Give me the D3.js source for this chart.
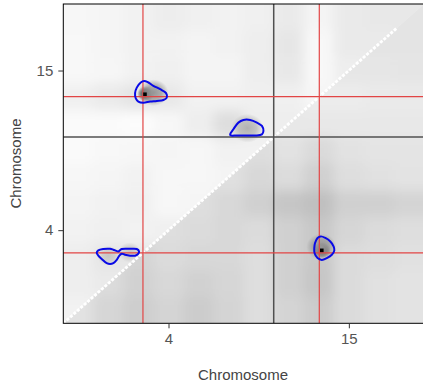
<!DOCTYPE html>
<html>
<head>
<meta charset="utf-8">
<script src="https://cdn.jsdelivr.net/npm/d3@7"></script>
<style>
  body { margin: 0; background: #fff; }
  svg { display: block; font-family: 'Liberation Sans', Arial, sans-serif; }
</style>
</head>
<body>
<div id="chart"></div>
<script>
// chromosomes on both axes (cM)
const chrNames = ['4', '15'];
const chrLengths = [84, 60];

// QTL positions (chromosome, cM)
const qtlChr = ['4', '15'];
const qtlPos = [31.8, 18.2];

// LOD surface as gray levels, 12 cM cells, rows listed top (high y) to bottom
const cellSize = 12;
const upperGrid = [
  [247, 245, 242, 237, 240, 242, 240, 234, 244, 234, 232, 232],
  [248, 245, 242, 242, 244, 242, 238, 230, 248, 234, 234, 232],
  [248, 246, 242, 240, 244, 244, 238, 232, 248, 238, 235, 234],
  [240, 234, 228, 232, 242, 242, 240, 240, 246, 242, 240, 240],
  [250, 250, 252, 247, 238, 222, 238, 238, 242, 240, 238, 237],
  [250, 248, 247, 245, 247, 242, 242, 238, 240, 240, 238, 237],
  [247, 245, 242, 247, 247, 244, 242, 238, 234, 234, 234, 234],
  [244, 242, 240, 247, 245, 242, 240, 234, 227, 224, 224, 224],
  [242, 240, 242, 240, 242, 240, 237, 232, 227, 227, 227, 227],
  [238, 230, 230, 234, 237, 237, 234, 230, 227, 227, 227, 227],
  [238, 234, 234, 237, 237, 234, 232, 230, 227, 227, 227, 227],
  [242, 238, 238, 237, 234, 232, 230, 228, 227, 227, 227, 227]
];
const lowerGrid = [
  [228, 228, 228, 228, 228, 228, 228, 228, 228, 228, 228, 228],
  [228, 228, 228, 228, 228, 228, 228, 226, 230, 228, 228, 228],
  [230, 230, 230, 230, 230, 230, 230, 228, 232, 230, 230, 229],
  [234, 234, 234, 234, 234, 234, 234, 232, 236, 236, 234, 234],
  [232, 232, 232, 232, 232, 232, 232, 232, 232, 232, 232, 232],
  [226, 226, 226, 226, 226, 226, 222, 226, 218, 226, 228, 228],
  [224, 224, 224, 224, 224, 224, 216, 220, 208, 222, 225, 227],
  [222, 222, 222, 222, 222, 216, 208, 198, 192, 208, 208, 212],
  [222, 222, 222, 222, 219, 216, 219, 208, 200, 214, 219, 222],
  [222, 222, 212, 219, 216, 216, 222, 208, 200, 219, 222, 225],
  [224, 219, 209, 216, 209, 214, 222, 208, 198, 219, 225, 227],
  [226, 214, 206, 212, 204, 212, 222, 212, 204, 219, 225, 227]
];

// darker spots (genome cM x, genome cM y, spread cM, gray)
const spotX = [33.0, 36.0, 103.2, 103.0, 73.5, 18.0, 26.5];
const spotY = [103.5, 104.0, 33.0, 34.5, 88.0, 30.5, 32.0];
const spotR = [3.5, 6, 3.5, 6, 6.5, 4.5, 4.5];
const spotGray = [50, 150, 50, 150, 178, 198, 198];

// peak markers (genome cM)
const peakX = [32.6, 103.2];
const peakY = [103.3, 32.9];

// significance contours (genome cM, x then y)
const contours = [
  [[28.65, 103.8], [29.33, 106.3], [30.92, 108.6], [32.24, 109.3], [33.96, 108.6], [35.96, 107.1],
   [38.64, 105.6], [41.03, 103.8], [41.31, 101.8], [39.95, 100.7], [37.32, 100.3], [34.64, 100.0],
   [31.96, 99.5], [29.96, 100.0], [28.93, 101.4]],
  [[66.6, 85.2], [67.9, 87.5], [69.9, 90.5], [71.9, 91.7], [74.6, 91.7], [77.3, 90.5], [79.3, 89.0],
   [79.9, 86.7], [79.3, 85.2], [76.6, 84.7], [73.3, 84.7], [69.3, 84.7], [66.9, 84.7]],
  [[13.34, 31.9], [13.98, 32.9], [15.98, 33.5], [18.66, 33.6], [19.98, 33.2], [21.97, 32.4],
   [23.33, 33.5], [26.65, 33.6], [29.32, 33.5], [30.24, 32.4], [29.96, 31.4], [28.65, 30.5],
   [26.65, 30.5], [24.65, 30.9], [23.33, 31.4], [22.37, 30.5], [21.33, 28.6], [19.98, 27.1],
   [18.66, 26.7], [17.34, 27.1], [15.34, 29.0], [13.98, 30.5]],
  [[100.5, 36.2], [101.5, 38.5], [102.8, 39.2], [104.6, 38.5], [106.6, 36.9], [107.9, 34.7],
   [108.2, 32.9], [107.2, 30.9], [105.2, 29.4], [103.2, 28.6], [101.5, 29.4], [100.3, 31.7],
   [100.2, 33.9]]
];

const diagEnd = 133;

// ---- layout
const W = 423, H = 385;
const pLeft = 63.3, pRight = 424, pTop = 4, pBottom = 323.3;

const chrStart = chrLengths.map((d, i) => d3.sum(chrLengths.slice(0, i)));
const total = d3.sum(chrLengths);
const genomePos = (chr, pos) => chrStart[chrNames.indexOf(chr)] + pos;

const x = d3.scaleLinear().domain([0, total]).range([pLeft, pRight]);
const y = d3.scaleLinear().domain([0, total]).range([pBottom, pTop]);

const svg = d3.select('#chart').append('svg').attr('width', W).attr('height', H);
const defs = svg.append('defs');

defs.append('clipPath').attr('id', 'panel')
  .append('rect').attr('x', pLeft).attr('y', pTop).attr('width', pRight - pLeft).attr('height', pBottom - pTop);
defs.append('clipPath').attr('id', 'upperTri')
  .append('polygon').attr('points', [[x(0), y(0)], [x(0), y(total)], [x(total), y(total)]].join(' '));
defs.append('clipPath').attr('id', 'lowerTri')
  .append('polygon').attr('points', [[x(0), y(0)], [x(total), y(0)], [x(total), y(total)]].join(' '));
defs.append('filter').attr('id', 'soft')
  .attr('filterUnits', 'userSpaceOnUse').attr('x', 0).attr('y', -60).attr('width', 500).attr('height', 460)
  .append('feGaussianBlur').attr('stdDeviation', 6);

const panel = svg.append('g').attr('clip-path', 'url(#panel)');
panel.append('rect').attr('x', pLeft).attr('y', pTop).attr('width', pRight - pLeft).attr('height', pBottom - pTop)
  .attr('fill', '#ececec');

// heat cells, blurred then clipped to their triangle
const drawGrid = (grid, clipId) => {
  const n = grid.length;
  const cells = [];
  grid.forEach((row, r) => row.forEach((v, i) => cells.push({ i, j: n - 1 - r, v })));
  const pad = 30;
  panel.append('g').attr('clip-path', `url(#${clipId})`)
    .append('g').attr('filter', 'url(#soft)')
    .selectAll('rect')
    .data(cells)
    .enter()
    .append('rect')
    .attr('x', d => x(d.i * cellSize) - (d.i === 0 ? pad : 0))
    .attr('y', d => y((d.j + 1) * cellSize) - (d.j === n - 1 ? pad : 0))
    .attr('width', d => x(cellSize) - x(0) + 0.6 + (d.i === 0 || d.i === n - 1 ? pad : 0))
    .attr('height', d => y(0) - y(cellSize) + 0.6 + (d.j === 0 || d.j === n - 1 ? pad : 0))
    .attr('fill', d => d3.rgb(d.v, d.v, d.v));
};
drawGrid(lowerGrid, 'lowerTri');
drawGrid(upperGrid, 'upperTri');

// dark spots
const spots = spotX.map((d, k) => ({ k, cx: d, cy: spotY[k], r: spotR[k], g: spotGray[k] }));
spots.forEach(s => {
  const grad = defs.append('radialGradient').attr('id', 'spot' + s.k);
  const c = d3.rgb(s.g, s.g, s.g);
  grad.append('stop').attr('offset', '0%').attr('stop-color', c).attr('stop-opacity', 1);
  grad.append('stop').attr('offset', '55%').attr('stop-color', c).attr('stop-opacity', 0.7);
  grad.append('stop').attr('offset', '100%').attr('stop-color', c).attr('stop-opacity', 0);
});
panel.selectAll('ellipse.spot')
  .data(spots)
  .enter()
  .append('ellipse')
  .attr('class', 'spot')
  .attr('cx', d => x(d.cx))
  .attr('cy', d => y(d.cy))
  .attr('rx', d => x(d.r) - x(0))
  .attr('ry', d => y(0) - y(d.r))
  .attr('fill', d => `url(#spot${d.k})`);

// diagonal
panel.append('line')
  .attr('x1', x(0)).attr('y1', y(0)).attr('x2', x(diagEnd)).attr('y2', y(diagEnd))
  .attr('stroke', '#fff').attr('stroke-width', 2.8).attr('stroke-dasharray', '3,1.6');

// chromosome boundaries
const bounds = chrStart.slice(1);
panel.selectAll('line.vb').data(bounds).enter().append('line')
  .attr('x1', d => x(d)).attr('x2', d => x(d)).attr('y1', pTop).attr('y2', pBottom)
  .attr('stroke', '#505050').attr('stroke-width', 1.5);
panel.selectAll('line.hb').data(bounds).enter().append('line')
  .attr('y1', d => y(d)).attr('y2', d => y(d)).attr('x1', pLeft).attr('x2', pRight)
  .attr('stroke', '#505050').attr('stroke-width', 1.5);

// QTL lines
const qtl = qtlChr.map((c, i) => genomePos(c, qtlPos[i]));
panel.selectAll('line.qv').data(qtl).enter().append('line')
  .attr('x1', d => x(d)).attr('x2', d => x(d)).attr('y1', pTop).attr('y2', pBottom)
  .attr('stroke', '#e24545').attr('stroke-width', 1.2);
panel.selectAll('line.qh').data(qtl).enter().append('line')
  .attr('y1', d => y(d)).attr('y2', d => y(d)).attr('x1', pLeft).attr('x2', pRight)
  .attr('stroke', '#e24545').attr('stroke-width', 1.2);

// contours
const contourLine = d3.line().x(d => x(d[0])).y(d => y(d[1])).curve(d3.curveCatmullRomClosed);
panel.selectAll('path.contour')
  .data(contours)
  .enter()
  .append('path')
  .attr('d', contourLine)
  .attr('fill', 'none')
  .attr('stroke', '#0a0ae6')
  .attr('stroke-width', 2);

// peaks
panel.selectAll('rect.peak')
  .data(peakX.map((d, i) => [d, peakY[i]]))
  .enter()
  .append('rect')
  .attr('x', d => x(d[0]) - 1.8).attr('y', d => y(d[1]) - 1.8)
  .attr('width', 3.6).attr('height', 3.6)
  .attr('fill', '#000');

// frame
svg.append('rect').attr('x', pLeft).attr('y', pTop).attr('width', pRight - pLeft).attr('height', pBottom - pTop)
  .attr('fill', 'none').attr('stroke', '#000').attr('stroke-width', 1);

// axes at chromosome midpoints
const mids = chrLengths.map((d, i) => chrStart[i] + d / 2);
const fmt = (d) => chrNames[mids.indexOf(d)];

const xAxis = svg.append('g').attr('transform', `translate(0,${pBottom})`)
  .call(d3.axisBottom(x).tickValues(mids).tickFormat(fmt).tickSize(5).tickPadding(5));
const yAxis = svg.append('g').attr('transform', `translate(${pLeft},0)`)
  .call(d3.axisLeft(y).tickValues(mids).tickFormat(fmt).tickSize(5).tickPadding(5));
[xAxis, yAxis].forEach(a => {
  a.select('.domain').remove();
  a.selectAll('line').attr('stroke', '#333');
  a.selectAll('text').attr('fill', '#555').style('font-size', '15px').attr('font-family', null);
});

svg.append('text')
  .attr('x', 243).attr('y', 379.5)
  .attr('text-anchor', 'middle')
  .attr('fill', '#444')
  .style('font-size', '15px')
  .text('Chromosome');
svg.append('text')
  .attr('transform', 'translate(20.5,163.5) rotate(-90)')
  .attr('text-anchor', 'middle')
  .attr('fill', '#444')
  .style('font-size', '15px')
  .text('Chromosome');
</script>
</body>
</html>
